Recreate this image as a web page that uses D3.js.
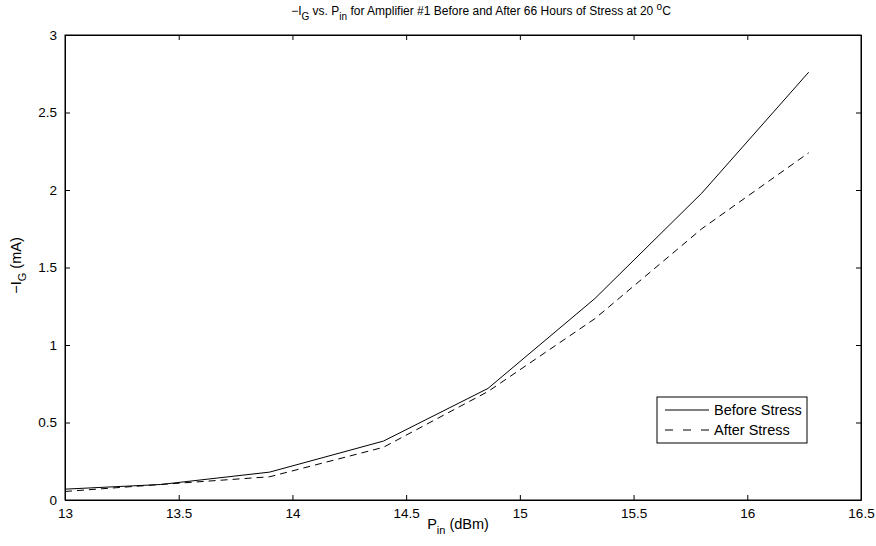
<!DOCTYPE html>
<html>
<head>
<meta charset="utf-8">
<script src="https://cdn.jsdelivr.net/npm/d3@7"></script>
<style>
  body { margin: 0; background: #fff; }
  text { font-family: "Liberation Sans", Arial, sans-serif; fill: #000; }
</style>
</head>
<body>
<div id="chart"></div>
<script>
// data
var pin = [13.0, 13.42, 13.9, 14.4, 14.86, 15.33, 15.8, 16.27];
var before = [0.07, 0.10, 0.18, 0.38, 0.72, 1.30, 1.98, 2.76];
var after = [0.055, 0.10, 0.15, 0.34, 0.70, 1.17, 1.75, 2.24];
var xTicks = [13, 13.5, 14, 14.5, 15, 15.5, 16, 16.5];
var yTicks = [0, 0.5, 1, 1.5, 2, 2.5, 3];

var width = 876, height = 546;
var margin = {left: 65, right: 15, top: 35, bottom: 46};
var w = width - margin.left - margin.right,
    h = height - margin.top - margin.bottom;

var svg = d3.select("#chart").append("svg")
    .attr("width", width)
    .attr("height", height);

var g = svg.append("g")
    .attr("transform", "translate(" + margin.left + "," + margin.top + ")");

var x = d3.scaleLinear().domain([13, 16.5]).range([0, w]);
var y = d3.scaleLinear().domain([0, 3]).range([h, 0]);

// axes, ticks pointing inward like matlab
var fmt = function(d) { return d3.format("")(d); };
g.append("g")
    .attr("transform", "translate(0," + h + ")")
    .call(d3.axisBottom(x).tickValues(xTicks).tickFormat(fmt).tickSizeInner(-5).tickSizeOuter(0).tickPadding(8));
g.append("g")
    .call(d3.axisTop(x).tickValues(xTicks).tickFormat("").tickSizeInner(-5).tickSizeOuter(0));
g.append("g")
    .call(d3.axisLeft(y).tickValues(yTicks).tickFormat(fmt).tickSizeInner(-5).tickSizeOuter(0).tickPadding(8));
g.append("g")
    .attr("transform", "translate(" + w + ",0)")
    .call(d3.axisRight(y).tickValues(yTicks).tickFormat("").tickSizeInner(-5).tickSizeOuter(0));

g.selectAll(".domain").attr("stroke", "#000");
g.selectAll(".tick line").attr("stroke", "#000");
g.selectAll(".tick text").style("font-size", "13.5px");

g.append("rect")
    .attr("width", w).attr("height", h)
    .attr("fill", "none").attr("stroke", "#000").attr("stroke-width", 1);

var line = d3.line()
    .x(function(d) { return x(d[0]); })
    .y(function(d) { return y(d[1]); });

g.append("path")
    .datum(d3.zip(pin, before))
    .attr("d", line)
    .attr("fill", "none").attr("stroke", "#000").attr("stroke-width", 1);

g.append("path")
    .datum(d3.zip(pin, after))
    .attr("d", line)
    .attr("fill", "none").attr("stroke", "#000").attr("stroke-width", 1)
    .attr("stroke-dasharray", "7,5");

// legend
var lg = svg.append("g").attr("transform", "translate(657,397)");
lg.append("rect").attr("width", 150).attr("height", 46)
    .attr("fill", "#fff").attr("stroke", "#000");
lg.append("line").attr("x1", 8).attr("x2", 52).attr("y1", 13).attr("y2", 13)
    .attr("stroke", "#000");
lg.append("line").attr("x1", 8).attr("x2", 52).attr("y1", 33).attr("y2", 33)
    .attr("stroke", "#000").attr("stroke-dasharray", "8,10");
lg.append("text").attr("x", 57).attr("y", 18).style("font-size", "14.5px").text("Before Stress");
lg.append("text").attr("x", 57).attr("y", 38).style("font-size", "14.5px").text("After Stress");

// title
var title = svg.append("text")
    .attr("x", margin.left + w / 2 + 18).attr("y", 15)
    .attr("text-anchor", "middle")
    .style("font-size", "12px");
title.append("tspan").text("\u2212I");
title.append("tspan").attr("dy", 5).style("font-size", "10px").text("G");
title.append("tspan").attr("dy", -5).text(" vs. P");
title.append("tspan").attr("dy", 5).style("font-size", "10px").text("in");
title.append("tspan").attr("dy", -5).text(" for Amplifier #1 Before and After 66 Hours of Stress at 20 ");
title.append("tspan").attr("dy", -5).style("font-size", "10px").text("o");
title.append("tspan").attr("dy", 5).text("C");

// x label
var xl = svg.append("text")
    .attr("x", margin.left + w / 2 - 5).attr("y", 529)
    .attr("text-anchor", "middle")
    .style("font-size", "14.5px");
xl.append("tspan").text("P");
xl.append("tspan").attr("dy", 5).style("font-size", "11px").text("in");
xl.append("tspan").attr("dy", -5).text(" (dBm)");

// y label
var yl = svg.append("text")
    .attr("transform", "translate(21," + (margin.top + h / 2 - 2) + ") rotate(-90)")
    .attr("text-anchor", "middle")
    .style("font-size", "14.5px");
yl.append("tspan").text("\u2212I");
yl.append("tspan").attr("dy", 5).style("font-size", "11px").text("G");
yl.append("tspan").attr("dy", -5).text(" (mA)");
</script>
</body>
</html>
